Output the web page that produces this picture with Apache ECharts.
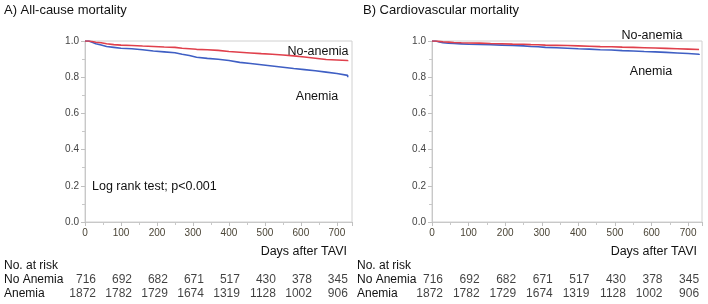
<!DOCTYPE html>
<html><head><meta charset="utf-8">
<script src="https://cdn.jsdelivr.net/npm/echarts@6/dist/echarts.min.js"></script>
<style>html,body{margin:0;padding:0;background:#fff}#c{width:708px;height:304px}</style>
</head><body><div id="c"></div>
<script>
const days = [0,10,20,30,45,60,80,100,130,160,190,220,250,270,290,310,340,370,400,430,460,490,520,550,580,610,640,670,700,730];
const allNoAnemia = [1.0,0.997,0.993,0.99,0.985,0.98,0.977,0.975,0.972,0.970,0.967,0.965,0.960,0.957,0.954,0.952,0.948,0.942,0.938,0.934,0.930,0.927,0.923,0.918,0.912,0.905,0.898,0.895,0.892,0.888];
const allAnemia = [1.0,0.993,0.985,0.978,0.970,0.965,0.960,0.957,0.952,0.945,0.940,0.935,0.927,0.920,0.910,0.904,0.899,0.892,0.882,0.876,0.869,0.862,0.855,0.848,0.842,0.836,0.828,0.820,0.810,0.800];
const cvNoAnemia = [1.0,0.998,0.996,0.994,0.992,0.990,0.989,0.988,0.986,0.985,0.983,0.982,0.980,0.979,0.977,0.976,0.975,0.973,0.971,0.969,0.968,0.966,0.965,0.963,0.961,0.959,0.957,0.955,0.953,0.952];
const cvAnemia = [1.0,0.995,0.991,0.988,0.986,0.984,0.982,0.981,0.979,0.977,0.975,0.973,0.970,0.968,0.965,0.963,0.960,0.957,0.955,0.952,0.950,0.947,0.945,0.942,0.940,0.937,0.934,0.931,0.927,0.923];
const riskDays = [0,100,200,300,400,500,600,700];
const riskNoAnemia = [716,692,682,671,517,430,378,345];
const riskAnemia = [1872,1782,1729,1674,1319,1128,1002,906];
const riskRows = ['No Anemia','Anemia'];
const yTicks = ['0.0','0.2','0.4','0.6','0.8','1.0'];

const FONT = 'Liberation Sans, Arial, sans-serif';
const RED = '#e0404c', BLUE = '#3f5fc4';
const pair = (xs, ys) => xs.map((x, i) => [x, ys[i]]);

const panels = [
  {left: 85, right: 356, max: 742, nameLeft: 4},
  {left: 432, right: 6, max: 738, nameLeft: 357}
];

const grid = [], xAxis = [], yAxis = [], series = [];
panels.forEach((p, k) => {
  grid.push({left: p.left, right: p.right, top: 41, bottom: 82, show: true, borderColor: '#d0d0d0', borderWidth: 1});
  grid.push({left: p.left, right: p.right, top: 273, height: 28});
  xAxis.push({type: 'value', gridIndex: 2*k, min: 0, max: p.max, interval: 100,
    axisLine: {show: true, lineStyle: {color: '#c8c8c8'}},
    axisTick: {show: true, length: 4, lineStyle: {color: '#c0c0c0'}},
    minorTick: {show: true, splitNumber: 2, length: 3, lineStyle: {color: '#c8c8c8'}},
    splitLine: {show: false},
    axisLabel: {color: '#4a4436', fontFamily: FONT, fontSize: 10, margin: 6,
      formatter: v => v > 700 ? '' : String(v)}});
  yAxis.push({type: 'value', gridIndex: 2*k, min: 0, max: 1, interval: 0.2,
    axisLine: {show: true, lineStyle: {color: '#c8c8c8'}},
    axisTick: {show: true, length: 4, lineStyle: {color: '#c0c0c0'}},
    minorTick: {show: true, splitNumber: 2, length: 3, lineStyle: {color: '#c8c8c8'}},
    splitLine: {show: false},
    axisLabel: {color: '#444', fontFamily: FONT, fontSize: 10, margin: 6,
      formatter: v => yTicks[Math.round(v * 5)]}});
  xAxis.push({type: 'value', gridIndex: 2*k+1, min: 0, max: p.max, show: false});
  yAxis.push({type: 'category', gridIndex: 2*k+1, data: riskRows, inverse: true,
    axisLine: {show: false}, axisTick: {show: false},
    axisLabel: {show: true, interval: 0, align: 'left', margin: p.left - p.nameLeft, color: '#111', fontFamily: FONT, fontSize: 12}});
});

const curves = [[allNoAnemia, allAnemia], [cvNoAnemia, cvAnemia]];
curves.forEach((c, k) => {
  series.push({type: 'line', xAxisIndex: 2*k, yAxisIndex: 2*k, step: 'end', data: pair(days, c[1]),
    showSymbol: false, lineStyle: {color: BLUE, width: 1.6}, z: 2});
  series.push({type: 'line', xAxisIndex: 2*k, yAxisIndex: 2*k, step: 'end', data: pair(days, c[0]),
    showSymbol: false, lineStyle: {color: RED, width: 1.6}, z: 3});
  [riskNoAnemia, riskAnemia].forEach((vals, r) => {
    series.push({type: 'scatter', xAxisIndex: 2*k+1, yAxisIndex: 2*k+1, symbolSize: 0,
      data: riskDays.map((d, i) => [d, riskRows[r], vals[i]]),
      label: {show: true, position: 'inside', align: 'right', offset: [11, 0], color: '#111', fontFamily: FONT, fontSize: 12,
        formatter: prm => String(prm.value[2])}});
  });
});

const T = (x, y, s, extra) => ({type: 'text', x: x, y: y,
  style: Object.assign({text: s, fill: '#111', font: '12.5px ' + FONT, verticalAlign: 'middle'}, extra || {})});

const chart = echarts.init(document.getElementById('c'), null, {renderer: 'canvas'});
chart.setOption({
  animation: false,
  grid, xAxis, yAxis, series,
  graphic: [
    T(4, 10, 'A) All-cause mortality', {font: '13px ' + FONT}),
    T(363, 10, 'B) Cardiovascular mortality', {font: '13px ' + FONT}),
    T(318, 52, 'No-anemia', {align: 'center'}),
    T(317, 97, 'Anemia', {align: 'center'}),
    T(652, 36, 'No-anemia', {align: 'center'}),
    T(651, 72, 'Anemia', {align: 'center'}),
    T(92, 187, 'Log rank test; p<0.001'),
    T(347, 252, 'Days after TAVI', {align: 'right'}),
    T(697, 252, 'Days after TAVI', {align: 'right'}),
    T(4, 266, 'No. at risk', {font: '12px ' + FONT}),
    T(357, 266, 'No. at risk', {font: '12px ' + FONT})
  ]
});
</script></body></html>
